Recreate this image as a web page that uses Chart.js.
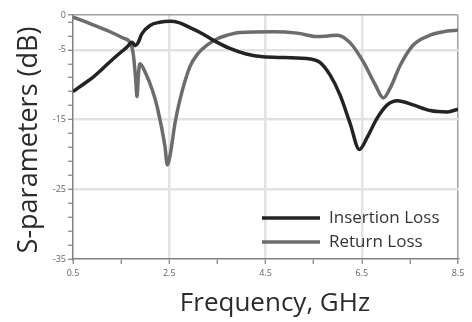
<!DOCTYPE html>
<html lang="en">
<head>
  <meta charset="UTF-8">
  <title>S-parameters</title>
  <style>
    html, body { margin: 0; padding: 0; background: #fff; overflow: hidden; }
    canvas { display: block; }
  </style>
</head>
<body>
  <canvas id="grafico" width="472" height="322"></canvas>

  <script src="https://cdn.jsdelivr.net/npm/chart.js"></script>
  <script>
    // valores (GHz, dB)
    const freqInsertion = [0.5, 0.7, 0.92, 1.1, 1.27, 1.45, 1.62, 1.73, 1.79, 1.85, 1.93, 2.1, 2.3, 2.52, 2.7, 2.93, 3.14, 3.41, 3.76, 4.1, 4.45, 4.9, 5.43, 5.63, 5.84, 6.05, 6.26, 6.45, 6.61, 6.82, 7.03, 7.24, 7.57, 7.92, 8.28, 8.5];
    const insertionLoss = [-11.0, -10.0, -8.9, -7.8, -6.7, -5.6, -4.6, -3.9, -4.4, -4.0, -2.7, -1.5, -1.05, -0.9, -1.1, -1.8, -2.5, -3.6, -4.8, -5.6, -6.0, -6.1, -6.3, -6.8, -8.6, -11.5, -15.6, -19.3, -17.6, -14.8, -12.9, -12.3, -12.9, -13.7, -13.9, -13.5];

    const freqReturn = [0.5, 0.92, 1.27, 1.54, 1.69, 1.75, 1.8, 1.83, 1.86, 1.89, 2.0, 2.15, 2.25, 2.41, 2.46, 2.52, 2.62, 2.72, 2.93, 3.1, 3.29, 3.5, 3.7, 3.97, 4.66, 5.16, 5.57, 5.8, 5.99, 6.26, 6.53, 6.78, 6.95, 7.09, 7.3, 7.57, 7.92, 8.28, 8.5];
    const returnLoss = [-0.3, -1.4, -2.4, -3.3, -4.0, -5.5, -9.0, -11.7, -8.5, -7.0, -8.2, -10.8, -13.2, -18.8, -21.5, -20.0, -15.5, -12.2, -7.4, -5.5, -4.3, -3.4, -2.9, -2.5, -2.4, -2.6, -3.1, -3.0, -2.9, -4.0, -6.7, -10.0, -11.9, -10.5, -7.2, -4.3, -2.9, -2.3, -2.2];

    const xTicks = [0.5, 1.5, 2.5, 3.5, 4.5, 5.5, 6.5, 7.5, 8.5];
    const xLabels = [0.5, 2.5, 4.5, 6.5, 8.5];
    const yTicks = [-35, -33, -31, -29, -27, -25, -23, -21, -19, -17, -15, -13, -11, -9, -7, -5, -3, -1, 0];
    const yLabels = [-35, -25, -15, -5, 0];

    function pontos(xs, ys) {
      return xs.map((x, i) => ({ x: x, y: ys[i] }));
    }

    // titulos e legenda desenhados por cima
    const extras = {
      id: 'extras',
      afterDraw(chart) {
        const c = chart.ctx;
        c.save();
        c.fillStyle = '#2b2b2b';
        c.textAlign = 'center';
        c.textBaseline = 'alphabetic';
        c.font = '26px "Open Sans"';
        c.fillText('Frequency, GHz', 275, 311);

        c.font = '27px "Open Sans"';
        c.translate(37, 140);
        c.rotate(-Math.PI / 2);
        c.fillText('S-parameters (dB)', 0, 0);
        c.restore();

        c.save();
        const ds = chart.data.datasets;
        c.font = '17px "Open Sans"';
        c.textBaseline = 'middle';
        c.textAlign = 'left';
        ds.forEach((d, i) => {
          const y = 218 + i * 24;
          c.strokeStyle = d.borderColor;
          c.lineWidth = 3.5;
          c.beginPath();
          c.moveTo(262, y);
          c.lineTo(320, y);
          c.stroke();
          c.fillStyle = '#333';
          c.fillText(d.label, 329, y);
        });
        c.restore();
      }
    };

    const ctx = document.getElementById('grafico');

    const grafico = new Chart(ctx, {
      type: 'line',
      data: {
        datasets: [
          {
            label: 'Insertion Loss',
            data: pontos(freqInsertion, insertionLoss),
            borderColor: '#232323',
            borderWidth: 3.5,
            pointRadius: 0,
            cubicInterpolationMode: 'monotone'
          },
          {
            label: 'Return Loss',
            data: pontos(freqReturn, returnLoss),
            borderColor: '#6c6c6c',
            borderWidth: 3.5,
            pointRadius: 0,
            cubicInterpolationMode: 'monotone'
          }
        ]
      },
      options: {
        responsive: false,
        animation: false,
        devicePixelRatio: 1,
        layout: { padding: { top: 15, right: 14, left: 0, bottom: 0 } },
        plugins: {
          legend: { display: false },
          tooltip: { enabled: false }
        },
        scales: {
          x: {
            type: 'linear',
            min: 0.5,
            max: 8.5,
            afterBuildTicks: (s) => { s.ticks = xTicks.map(v => ({ value: v })); },
            afterFit: (s) => { s.height = 63; },
            ticks: {
              autoSkip: false,
              maxRotation: 0,
              padding: 4,
              color: '#666',
              font: { family: 'Open Sans', size: 9 },
              callback: (v) => xLabels.includes(v) ? v.toFixed(1) : ''
            },
            grid: {
              color: (c) => {
                const v = c.tick ? c.tick.value : null;
                if (v === 8.5) return '#a0a0a0';
                if (v === 2.5 || v === 4.5 || v === 6.5) return '#e2e2e2';
                return 'rgba(0,0,0,0)';
              },
              lineWidth: (c) => (c.tick && c.tick.value === 8.5) ? 1.5 : 2.5,
              tickColor: '#808080',
              tickLength: 5,
              tickWidth: 1.2
            },
            border: { display: true, color: '#808080', width: 1.5 }
          },
          y: {
            min: -35,
            max: 0,
            afterBuildTicks: (s) => { s.ticks = yTicks.map(v => ({ value: v })); },
            afterFit: (s) => { s.width = 73; },
            ticks: {
              autoSkip: false,
              padding: 2,
              color: '#666',
              font: { family: 'Open Sans', size: 9 },
              callback: (v) => yLabels.includes(v) ? String(v) : ''
            },
            grid: {
              color: (c) => {
                const v = c.tick ? c.tick.value : null;
                if (v === 0) return '#a0a0a0';
                if (v === -5 || v === -15 || v === -25) return '#e2e2e2';
                return 'rgba(0,0,0,0)';
              },
              lineWidth: (c) => (c.tick && c.tick.value === 0) ? 1.5 : 2.5,
              tickColor: '#808080',
              tickLength: 5,
              tickWidth: 1.2
            },
            border: { display: true, color: '#808080', width: 1.5 }
          }
        }
      },
      plugins: [extras]
    });
  </script>
</body>
</html>
